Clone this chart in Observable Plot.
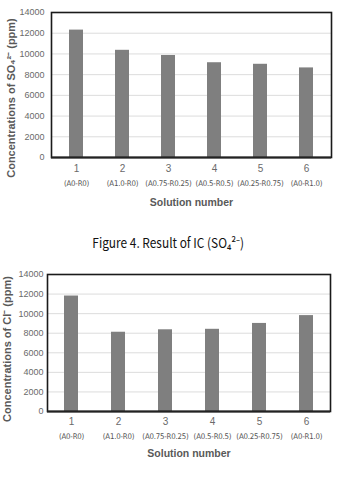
<!DOCTYPE html>
<html>
<head>
<meta charset="utf-8">
<script src="https://cdn.jsdelivr.net/npm/d3@7"></script>
<script src="https://cdn.jsdelivr.net/npm/@observablehq/plot@0.6"></script>
<style>
  html, body { margin: 0; padding: 0; background: #fff; }
  #wrap { position: relative; width: 337px; height: 478px; overflow: hidden; background: #fff; }
  #c1 { position: absolute; left: 0; top: 0; }
  #c2 { position: absolute; left: 0; top: 262px; }
  #cap { position: absolute; left: 0; width: 337px; top: 233px; text-align: center;
         font-family: "Noto Sans CJK KR", "Noto Sans", sans-serif; font-size: 13.5px; color: #111;
         line-height: 18px; }
  #cap span { display: inline-block; transform: scaleX(0.88); transform-origin: center; white-space: nowrap; }
  .sub text { letter-spacing: -0.2px; }
</style>
</head>
<body>
<div id="wrap">
  <div id="c1"></div>
  <div id="cap"><span>Figure 4. Result of IC (SO₄²⁻)</span></div>
  <div id="c2"></div>
</div>
<script>
const categories = ["1", "2", "3", "4", "5", "6"];
const subLabels = ["(A0-R0)", "(A1.0-R0)", "(A0.75-R0.25)", "(A0.5-R0.5)", "(A0.25-R0.75)", "(A0-R1.0)"];
const so4Values = [12300, 10350, 9850, 9150, 9000, 8650];
const clValues = [11800, 8100, 8350, 8400, 9000, 9800];
const yTicks = [0, 2000, 4000, 6000, 8000, 10000, 12000, 14000];
const xTitle = "Solution number";
const so4Label = "Concentrations of SO₄²⁻ (ppm)";
const clLabel = "Concentrations of Cl⁻ (ppm)";

const subMap = new Map(categories.map((c, i) => [c, subLabels[i]]));
const narrow = "'Liberation Sans Narrow', 'DejaVu Sans Condensed', 'Noto Sans CJK KR', sans-serif";

function makeChart(values, yLabel, o) {
  const data = categories.map((c, i) => ({n: c, v: values[i]}));
  return Plot.plot({
    width: 337,
    height: o.height,
    marginLeft: o.ml,
    marginRight: o.mr,
    marginTop: o.mt,
    marginBottom: o.mb,
    style: {fontFamily: "'Liberation Sans', Arial, sans-serif", background: "#fff", overflow: "visible"},
    x: {type: "band", domain: categories, paddingInner: 0.7, paddingOuter: 0.35, label: null},
    y: {domain: [0, 14000], label: null},
    marks: [
      Plot.gridY(yTicks, {stroke: "#dcdcdc", strokeOpacity: 1}),
      Plot.barY(data, {x: "n", y: "v", fill: "#7f7f7f"}),
      Plot.frame({stroke: "#1a1a1a", strokeWidth: 1.6}),
      Plot.ruleY([0], {stroke: "#222", strokeWidth: 2}),
      Plot.axisY(yTicks, {tickSize: 0, tickPadding: o.yPad, fontSize: 9, color: "#6a6a6a", label: null,
                          tickFormat: d => String(d)}),
      Plot.axisX({tickSize: 0, tickPadding: o.xPad, fontSize: 10, color: "#6a6a6a", label: null}),
      Plot.axisX({tickSize: 0, tickPadding: o.subPad, fontSize: 7.8, color: "#555", fontFamily: narrow,
                  className: "sub", tickFormat: d => subMap.get(d), label: null}),
      Plot.text([xTitle], {frameAnchor: "bottom", lineAnchor: "middle", dy: o.titleDy,
                           fontWeight: "bold", fontSize: 10.5, fill: "#595959"}),
      Plot.text([yLabel], {frameAnchor: "left", lineAnchor: "middle", textAnchor: "middle", rotate: -90,
                           dx: o.labelDx, dy: o.labelDy, fontWeight: "bold", fontSize: 11, fill: "#595959"})
    ]
  });
}

document.getElementById("c1").append(makeChart(so4Values, so4Label,
  {height: 212, ml: 51, mr: 6, mt: 12, mb: 55, yPad: 7, xPad: 7, subPad: 23, titleDy: 45, labelDx: -40, labelDy: 13}));
document.getElementById("c2").append(makeChart(clValues, clLabel,
  {height: 216, ml: 47, mr: 7, mt: 12, mb: 67, yPad: 4, xPad: 6, subPad: 22, titleDy: 42, labelDx: -40, labelDy: 6}));
</script>
</body>
</html>
